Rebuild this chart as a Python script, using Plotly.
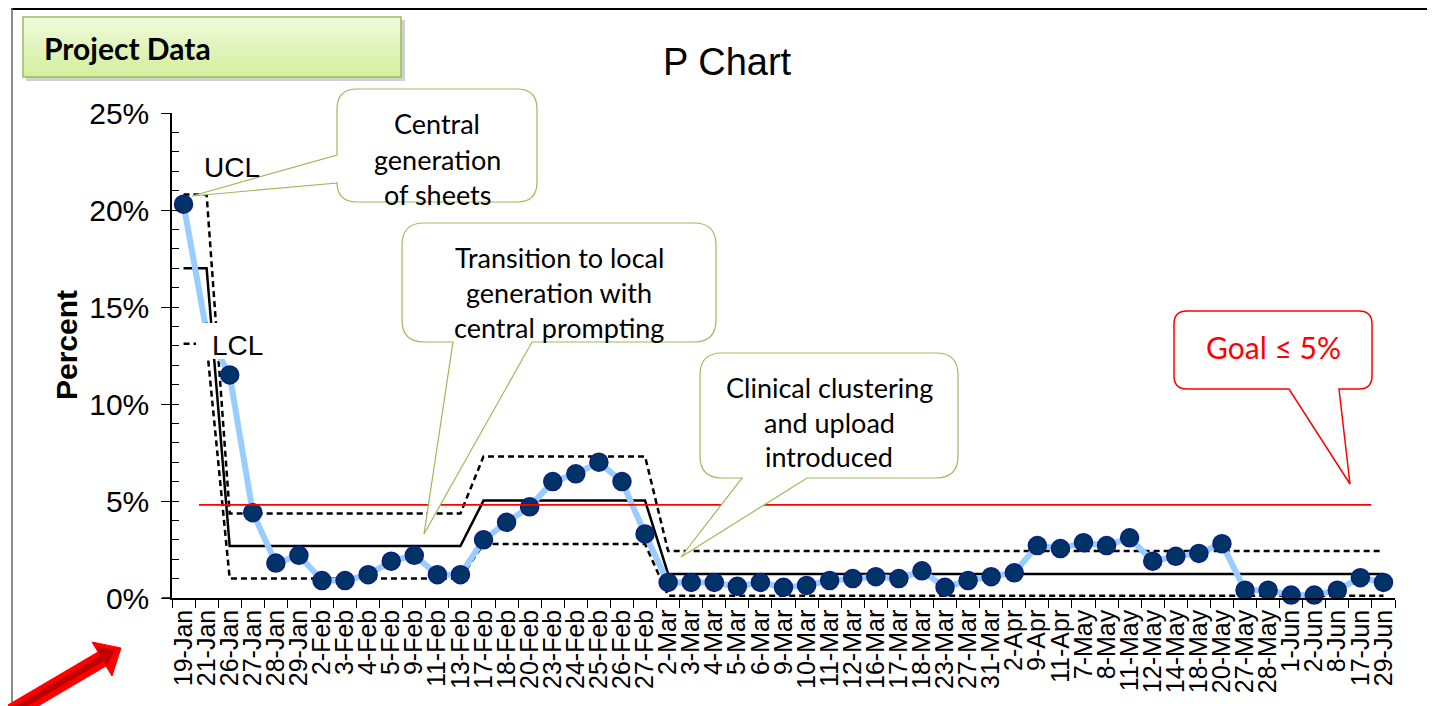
import plotly.graph_objects as go

# ---------------- data ----------------
categories = ["19-Jan", "21-Jan", "26-Jan", "27-Jan", "28-Jan", "29-Jan",
              "2-Feb", "3-Feb", "4-Feb", "5-Feb", "9-Feb", "11-Feb", "13-Feb",
              "17-Feb", "18-Feb", "20-Feb", "23-Feb", "24-Feb", "25-Feb", "26-Feb", "27-Feb",
              "2-Mar", "3-Mar", "4-Mar", "5-Mar", "6-Mar", "9-Mar", "10-Mar", "11-Mar",
              "12-Mar", "16-Mar", "17-Mar", "18-Mar", "23-Mar", "27-Mar", "31-Mar",
              "2-Apr", "9-Apr", "11-Apr",
              "7-May", "8-May", "11-May", "12-May", "14-May", "18-May", "20-May", "27-May", "28-May",
              "1-Jun", "2-Jun", "8-Jun", "17-Jun", "29-Jun"]

percent = [20.3, 13.7, 11.5, 4.4, 1.8, 2.2,
           0.9, 0.9, 1.2, 1.9, 2.2, 1.2, 1.2,
           3.0, 3.9, 4.7, 6.0, 6.4, 7.0, 6.0, 3.3,
           0.8, 0.8, 0.8, 0.6, 0.8, 0.55, 0.65, 0.9,
           1.0, 1.1, 1.0, 1.4, 0.55, 0.9, 1.1,
           1.3, 2.7, 2.55,
           2.85, 2.7, 3.1, 1.9, 2.15, 2.3, 2.8, 0.4, 0.4,
           0.15, 0.15, 0.4, 1.05, 0.8]

segment_sizes = [2, 11, 8, 32]
ucl_levels = [20.8, 4.35, 7.3, 2.42]
cl_levels = [17.0, 2.68, 5.02, 1.24]
lcl_levels = [13.1, 1.01, 2.78, 0.12]

ucl = [v for v, n in zip(ucl_levels, segment_sizes) for _ in range(n)]
cl = [v for v, n in zip(cl_levels, segment_sizes) for _ in range(n)]
lcl = [v for v, n in zip(lcl_levels, segment_sizes) for _ in range(n)]

goal = 4.8
y_tick_values = [0, 5, 10, 15, 20, 25]
y_tick_labels = ["0%", "5%", "10%", "15%", "20%", "25%"]

# ---------------- geometry helpers ----------------
# page has an 8px body margin; the figure is sized so that it ends at the window edge
OFF = 8
W, H = 1435 - OFF, 706 - OFF
L, R, T, B = 172, 1395, 113, 598   # plot area in window pixels


def px(x):
    return (x - L) / (R - L)


def py(y):
    return (B - y) / (B - T)


def path_from(points_cmds):
    out = []
    for cmd in points_cmds:
        c = cmd[0]
        nums = cmd[1:]
        coords = []
        for i in range(0, len(nums), 2):
            coords.append(f"{px(nums[i]):.5f},{py(nums[i + 1]):.5f}")
        out.append(c + " " + " ".join(coords))
    return " ".join(out) + " Z"


def bubble_bottom(x0, y0, x1, y1, r, pa, pb, tip):
    cmds = [("M", x0 + r, y0), ("L", x1 - r, y0), ("Q", x1, y0, x1, y0 + r),
            ("L", x1, y1 - r), ("Q", x1, y1, x1 - r, y1),
            ("L", pb, y1), ("L", tip[0], tip[1]), ("L", pa, y1),
            ("L", x0 + r, y1), ("Q", x0, y1, x0, y1 - r),
            ("L", x0, y0 + r), ("Q", x0, y0, x0 + r, y0)]
    return path_from(cmds)


def bubble_left(x0, y0, x1, y1, r, pa, pb, tip):
    cmds = [("M", x0 + r, y0), ("L", x1 - r, y0), ("Q", x1, y0, x1, y0 + r),
            ("L", x1, y1 - r), ("Q", x1, y1, x1 - r, y1),
            ("L", x0 + r, y1), ("Q", x0, y1, x0, y1 - r),
            ("L", x0, pb), ("L", tip[0], tip[1]), ("L", x0, pa),
            ("L", x0, y0 + r), ("Q", x0, y0, x0 + r, y0)]
    return path_from(cmds)


def polygon(pts):
    cmds = [("M",) + tuple(pts[0])] + [("L",) + tuple(p) for p in pts[1:]]
    return path_from(cmds)


# ---------------- figure ----------------
fig = go.Figure()

dash = "6px,4px"
fig.add_trace(go.Scatter(x=categories, y=ucl, mode="lines", name="UCL",
                         line=dict(color="black", width=2.5, dash=dash), hoverinfo="skip"))
fig.add_trace(go.Scatter(x=categories, y=lcl, mode="lines", name="LCL",
                         line=dict(color="black", width=2.5, dash=dash), hoverinfo="skip"))
fig.add_trace(go.Scatter(x=categories, y=cl, mode="lines", name="CL",
                         line=dict(color="black", width=2.5), hoverinfo="skip"))
fig.add_trace(go.Scatter(x=categories, y=percent, mode="lines+markers", name="Percent",
                         line=dict(color="#99CCFF", width=6),
                         marker=dict(size=18, color="#003366",
                                     line=dict(color="#0b1f80", width=1.5)),
                         cliponaxis=False))
# invisible trace to anchor the minor-tick overlay axis
fig.add_trace(go.Scatter(x=[categories[0]], y=[0], yaxis="y2", mode="markers",
                         marker=dict(opacity=0), hoverinfo="skip", showlegend=False))

axis_font = "Liberation Sans, Arial, sans-serif"
call_font = "Lato, Carlito, Calibri, sans-serif"

fig.update_layout(
    width=W, height=H, autosize=False,
    margin=dict(l=L - OFF, r=1435 - R, t=T - OFF, b=706 - B, pad=0),
    paper_bgcolor="white", plot_bgcolor="white",
    showlegend=False,
    xaxis=dict(type="category", categoryorder="array", categoryarray=categories,
               range=[-0.5, len(categories) - 0.5],
               tickmode="array", tickvals=categories, ticktext=categories,
               tickson="boundaries", ticks="outside", ticklen=8, tickwidth=1,
               tickcolor="black", tickangle=-90,
               tickfont=dict(family=axis_font, size=25, color="black"),
               showline=True, linecolor="black", linewidth=1.5,
               showgrid=False, zeroline=False),
    yaxis=dict(range=[0, 25], tickmode="array", tickvals=y_tick_values,
               ticktext=y_tick_labels, ticks="outside", ticklen=9, tickwidth=1,
               tickcolor="black", ticklabelstandoff=6,
               tickfont=dict(family=axis_font, size=30, color="black"),
               showline=True, linecolor="black", linewidth=1.5,
               showgrid=False, zeroline=False),
    yaxis2=dict(range=[0, 25], overlaying="y", side="left", tickmode="linear",
                tick0=0, dtick=1, ticks="inside", ticklen=7, tickwidth=1,
                tickcolor="black", showticklabels=False, showline=False,
                showgrid=False, zeroline=False),
)

shapes = []

# outer frame
shapes.append(dict(type="line", xref="paper", yref="paper", x0=px(11), x1=px(1440),
                   y0=py(9), y1=py(9), line=dict(color="black", width=2)))
shapes.append(dict(type="line", xref="paper", yref="paper", x0=px(12), x1=px(12),
                   y0=py(8), y1=py(720), line=dict(color="#666666", width=1.5)))

# x axis line stub left of y axis
shapes.append(dict(type="line", xref="paper", yref="paper", x0=px(162), x1=px(172),
                   y0=0, y1=0, line=dict(color="black", width=1.5)))

# Project Data box: shadow, gradient, border
shapes.append(dict(type="rect", xref="paper", yref="paper",
                   x0=px(26), x1=px(405), y0=py(20), y1=py(81),
                   fillcolor="rgba(0,0,0,0.18)", line=dict(width=0)))
n_str = 12
top_c = (240, 250, 218)
bot_c = (212, 240, 160)
for i in range(n_str):
    t = i / (n_str - 1)
    c = tuple(int(top_c[k] + (bot_c[k] - top_c[k]) * t) for k in range(3))
    ya = 17 + i * 60 / n_str
    yb = ya + 60 / n_str + 0.5
    shapes.append(dict(type="rect", xref="paper", yref="paper",
                       x0=px(23), x1=px(401), y0=py(ya), y1=py(min(yb, 77)),
                       fillcolor=f"rgb{c}", line=dict(width=0)))
shapes.append(dict(type="rect", xref="paper", yref="paper",
                   x0=px(23), x1=px(401), y0=py(17), y1=py(77),
                   fillcolor="rgba(0,0,0,0)", line=dict(color="#9BBB59", width=1.5)))

# white background behind the LCL label
shapes.append(dict(type="rect", xref="paper", yref="paper",
                   x0=px(196), x1=px(268), y0=py(323), y1=py(359),
                   fillcolor="white", line=dict(width=0)))

# goal line
shapes.append(dict(type="line", xref="x", yref="y", x0=0.67, x1=51.47, y0=goal, y1=goal,
                   line=dict(color="#FF0000", width=1.8)))

green = "#9BBB59"
# callouts
shapes.append(dict(type="path", xref="paper", yref="paper",
                   path=bubble_left(337, 89, 537, 202, 20, 155, 183, (192, 196)),
                   fillcolor="white", line=dict(color=green, width=1.2)))
shapes.append(dict(type="path", xref="paper", yref="paper",
                   path=bubble_bottom(402, 223, 716, 342, 22, 453, 532, (424, 534)),
                   fillcolor="white", line=dict(color=green, width=1.2)))
shapes.append(dict(type="path", xref="paper", yref="paper",
                   path=bubble_bottom(700, 353, 958, 478, 22, 742, 807, (681, 557)),
                   fillcolor="white", line=dict(color=green, width=1.2)))
shapes.append(dict(type="path", xref="paper", yref="paper",
                   path=bubble_bottom(1174, 311, 1372, 389, 13, 1289, 1339, (1350, 484)),
                   fillcolor="white", line=dict(color="#FF0000", width=1.5)))

# red arrow (bottom-left)
outer = [(-6, 732), (106, 666), (112, 676), (121, 648), (92, 642), (98, 652), (-14, 718)]
inner = [(-8, 727), (104, 661), (106, 667), (115, 650), (97, 646), (100, 656), (-12, 722)]
shapes.append(dict(type="path", xref="paper", yref="paper", path=polygon(outer),
                   fillcolor="#FF0000", line=dict(color="#FF0000", width=1)))
shapes.append(dict(type="path", xref="paper", yref="paper", path=polygon(inner),
                   fillcolor="#C00000", line=dict(width=0)))

fig.update_layout(shapes=shapes)

ann = []


def text(x, y, s, size, family=axis_font, color="black", xanchor="center", **kw):
    ann.append(dict(x=px(x), y=py(y), xref="paper", yref="paper", text=s,
                    showarrow=False, xanchor=xanchor, yanchor="middle",
                    font=dict(family=family, size=size, color=color), **kw))


text(727, 62, "P Chart", 38)
text(66, 345, "<b>Percent</b>", 30, textangle=-90)
text(232, 167, "UCL", 28)
text(237, 345, "LCL", 28)
text(42, 48, "<b>Project Data</b>", 30, family=call_font, xanchor="left")

for (x, ys, lines) in [
    (437, [123, 159, 194], ["Central", "generation", "of sheets"]),
    (559, [257, 292, 327], ["Transition to local", "generation with", "central prompting"]),
    (829, [387, 422, 457], ["Clinical clustering", "and upload", "introduced"]),
]:
    for yy, s in zip(ys, lines):
        text(x, yy, s, 27, family=call_font)

text(1273, 347, "Goal ≤ 5%", 30, family=call_font, color="#FF0000")

fig.update_layout(annotations=ann)

fig.write_html("out.html")
